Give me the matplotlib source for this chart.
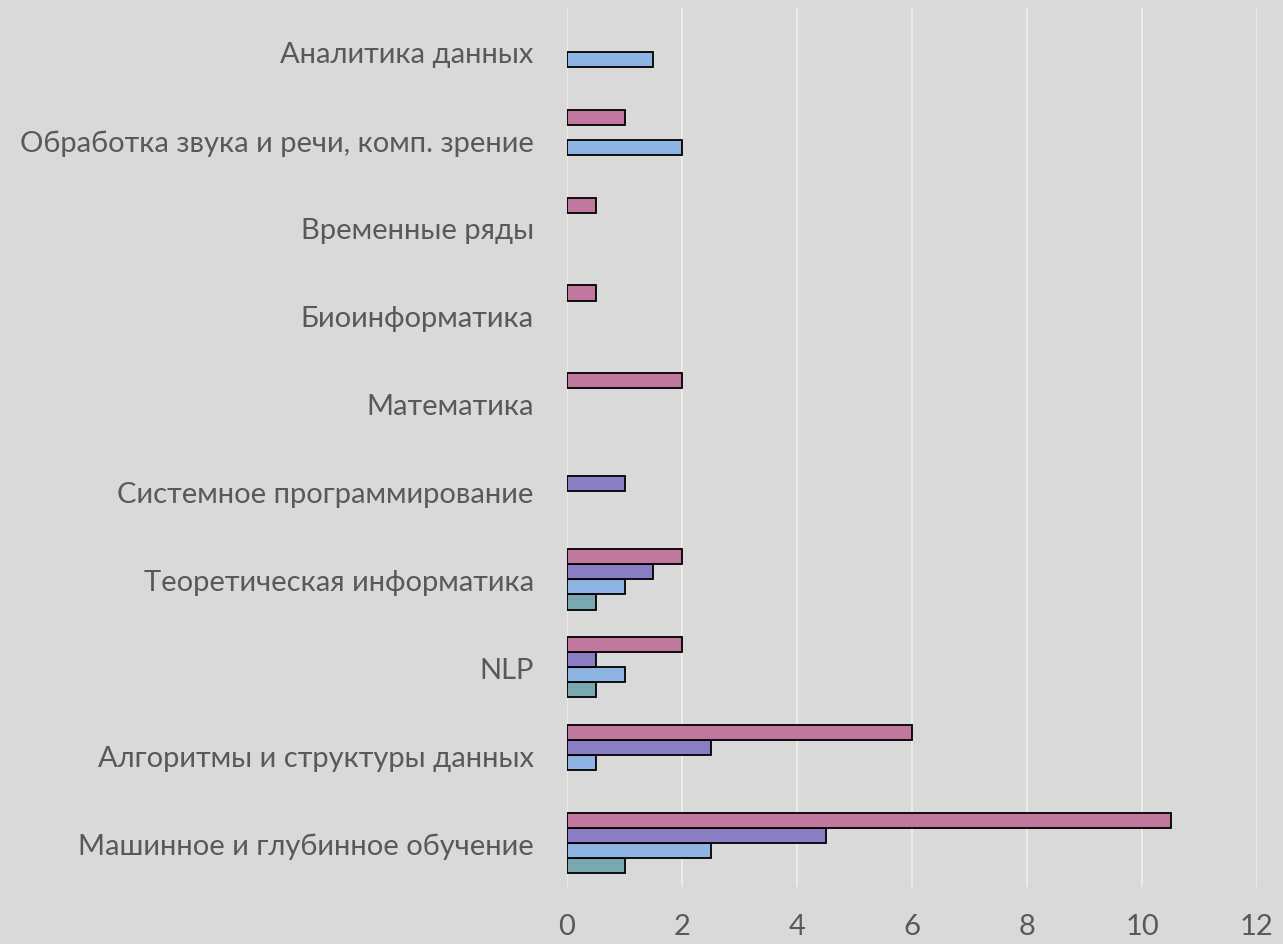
import matplotlib
matplotlib.use("Agg")
import matplotlib.pyplot as plt
import numpy as np

categories = [
    "Машинное и глубинное обучение",
    "Алгоритмы и структуры данных",
    "NLP",
    "Теоретическая информатика",
    "Системное программирование",
    "Математика",
    "Биоинформатика",
    "Временные ряды",
    "Обработка звука и речи, комп. зрение",
    "Аналитика данных",
]
series1 = [1, 0, 0.5, 0.5, 0, 0, 0, 0, 0, 0]        # teal
series2 = [2.5, 0.5, 1, 1, 0, 0, 0, 0, 2, 1.5]      # light blue
series3 = [4.5, 2.5, 0.5, 1.5, 1, 0, 0, 0, 0, 0]    # purple
series4 = [10.5, 6, 2, 2, 0, 2, 0.5, 0.5, 1, 0]     # pink
x_ticks = [0, 2, 4, 6, 8, 10, 12]

colors = ["#7BA7B1", "#8DB4E3", "#8B7DC3", "#C0789E"]
bg = "#D9D9D9"
txt = "#595959"

plt.rcParams['font.family'] = ['Lato', 'DejaVu Sans']

fig = plt.figure(figsize=(12.83, 9.45), dpi=100, facecolor=bg)
ax = fig.add_axes([567/1283, 1-888/945, (1257-567)/1283, (888-9)/945])
ax.set_facecolor(bg)

y = np.arange(len(categories))
h = 0.172
all_series = [series1, series2, series3, series4]
offsets = [-1.5*h, -0.5*h, 0.5*h, 1.5*h]
for s, c, off in zip(all_series, colors, offsets):
    vals = np.array(s, dtype=float)
    mask = vals > 0
    ax.barh(y[mask] + off, vals[mask], height=h, color=c,
            edgecolor="black", linewidth=1.3, zorder=3)

ax.set_xlim(0, 12)
ax.set_ylim(-0.5, len(categories) - 0.5)
ax.set_xticks(x_ticks)
ax.set_xticklabels([str(t) for t in x_ticks])
ax.set_yticks(y)
ax.set_yticklabels(categories)
ax.tick_params(axis='both', length=0, colors=txt, labelsize=21)
ax.tick_params(axis='y', pad=24)
ax.tick_params(axis='x', pad=19)
ax.xaxis.grid(True, color="#EEECE1", linewidth=1.5, zorder=0)
ax.yaxis.grid(False)
for sp in ax.spines.values():
    sp.set_visible(False)

fig.savefig("out.png", dpi=100, facecolor=bg)
